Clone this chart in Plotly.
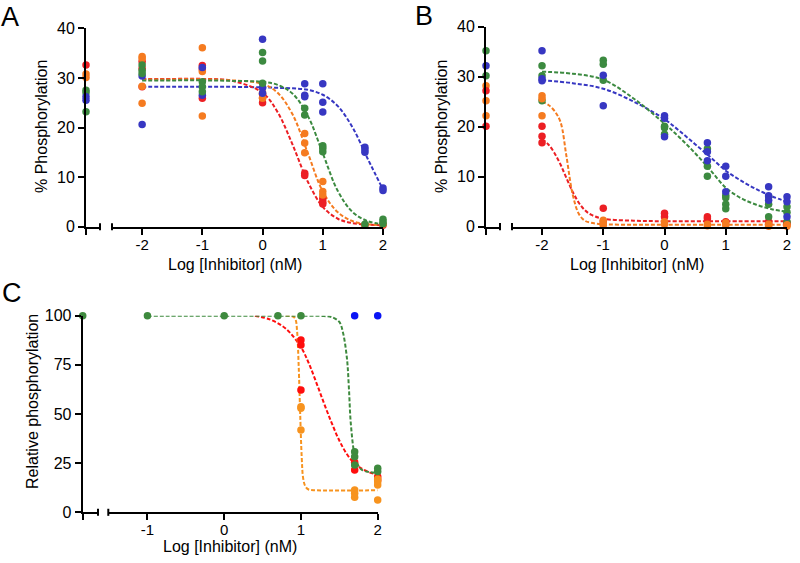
import plotly.graph_objects as go

# log10 dose (nM); control (no inhibitor) sits on the short axis piece left of the break
A_DOSES = [-2, -1, 0, 0.7, 1, 1.7, 2]
A_CTRL_RED = [32.6]
A_CTRL_ORANGE = [30.8, 30.1]
A_CTRL_GREEN = [27.5, 27.0, 23.2]
A_CTRL_BLUE = [26.2, 25.5]
A_RED = [[33.3, 31.9, 28.2], [32.5, 31.8, 25.9], [26.7, 26.0, 25.0], [10.8, 10.3],
         [5.7, 5.0, 4.6], [0.3], [0.3]]
A_ORANGE = [[34.3, 33.9, 28.3, 24.9], [36.1, 31.3, 22.3], [27.0, 25.9], [18.8, 16.9, 14.9],
            [9.1, 7.1, 6.4], [0.4], [0.5]]
A_GREEN = [[32.6, 31.5, 30.9], [29.2, 28.2, 27.2], [35.1, 33.4, 28.9], [23.9, 22.5],
           [16.3, 15.8, 15.1], [0.5], [1.5, 1.0, 0.6]]
A_BLUE = [[30.4, 20.6], [32.1, 26.5], [37.8, 28.0, 26.9], [28.8, 26.5, 26.2],
          [28.8, 25.1, 23.1], [16.0, 15.5, 15.0], [7.8, 7.3]]
A_FIT_X = [-2, -1.5, -1, -0.5, 0, 0.25, 0.5, 0.75, 1, 1.25, 1.5, 1.75, 2]
A_FIT_RED = [29.8, 29.8, 29.8, 29.4, 27.0, 23.1, 16.5, 9.1, 4.0, 1.6, 0.7, 0.4, 0.3]
A_FIT_ORANGE = [29.7, 29.7, 29.7, 29.5, 28.8, 27.0, 22.6, 14.9, 7.1, 2.9, 1.1, 0.5, 0.3]
A_FIT_GREEN = [29.5, 29.5, 29.5, 29.4, 29.2, 28.6, 26.8, 22.4, 14.8, 7.2, 2.9, 1.1, 0.5]
A_FIT_BLUE = [28.2, 28.2, 28.2, 28.2, 28.1, 28.0, 27.9, 27.6, 26.6, 24.3, 19.9, 13.6, 7.5]

B_DOSES = [-2, -1, 0, 0.7, 1, 1.7, 2]
B_CTRL_RED = [27.2, 20.1]
B_CTRL_ORANGE = [28.2, 25.2, 22.2]
B_CTRL_GREEN = [35.2, 30.2]
B_CTRL_BLUE = [32.2]
B_RED = [[20.1, 18.1, 16.8], [3.7, 1.0], [2.7, 2.0], [2.0, 1.6], [1.0], [1.0, 0.6], [0.8, 0.5]]
B_ORANGE = [[26.2, 25.6, 22.2], [1.3, 0.6, 0.3], [1.0, 0.5], [0.5, 0.2], [0.8, 0.3],
            [0.5, 0.1], [0.4, 0.1]]
B_GREEN = [[32.2, 30.2, 25.2], [33.3, 32.5, 29.3], [20.1, 19.8, 18.5], [15.6, 12.1, 10.1],
           [6.3, 5.8, 4.5, 3.6], [6.0, 4.5, 2.0], [4.0, 2.9, 1.0]]
B_BLUE = [[35.2, 29.6, 29.2], [30.3, 24.2], [22.2, 21.7, 18.0], [16.8, 15.0, 13.2],
          [12.1, 10.1, 7.0], [8.0, 6.2, 5.3], [6.0, 5.0, 2.0]]
B_FIT_X = [-2, -1.5, -1, -0.5, 0, 0.25, 0.5, 0.75, 1, 1.25, 1.5, 1.75, 2]
B_FIT_GREEN = [31.0, 30.6, 29.4, 25.6, 20.6, 17.8, 14.7, 11.3, 7.8, 5.7, 4.4, 3.5, 3.0]
B_FIT_BLUE = [29.3, 28.7, 27.6, 25.0, 21.5, 19.1, 16.5, 13.9, 11.2, 9.2, 7.5, 6.1, 5.0]
B_FIT_X2 = [-2, -1.9, -1.8, -1.7, -1.6, -1.5, -1.4, -1.3, -1.2, -1.0, -0.5, 0, 1, 2]
B_FIT_ORANGE = [25.0, 24.4, 23.2, 21.0, 14.0, 6.5, 2.6, 1.2, 0.8, 0.5, 0.4, 0.4, 0.4, 0.4]
B_FIT_RED = [17.5, 16.5, 14.8, 12.5, 9.7, 7.0, 4.8, 3.3, 2.4, 1.6, 1.2, 1.1, 1.1, 1.1]

C_DOSES = [-1, 0, 0.7, 1, 1.7, 2]
C_CTRL_GREEN = [100]
C_RED = [[], [], [], [87.6, 85.1, 62.2], [25.5, 21.5], [18.1, 16.4]]
C_ORANGE = [[], [], [], [53.7, 52.9, 41.9], [11.3, 9.7, 7.6], [17.0, 15.6, 13.9, 6.3]]
C_GREEN = [[100], [100], [100], [100], [30.8, 28.3, 24.1], [22.4, 20.7]]
C_BLUE = [[], [], [], [], [100], [100]]
C_FIT_GREEN_X = [-1, 0, 1, 1.3, 1.4, 1.5, 1.55, 1.6, 1.625, 1.65, 1.7, 1.75, 1.8, 1.9, 2]
C_FIT_GREEN = [100, 100, 100, 99.8, 99.3, 96.8, 91, 78, 63, 45, 29, 23.5, 21.5, 20.4, 20.1]
C_FIT_RED_X = [0.4, 0.6, 0.8, 1.0, 1.1, 1.2, 1.3, 1.4, 1.5, 1.6, 1.7, 1.8, 1.9, 2.0]
C_FIT_RED = [100, 98, 93.5, 84, 76, 66, 55.5, 45.5, 36.5, 29.5, 24.8, 22, 20.2, 19.2]
C_FIT_ORANGE_X = [0.8, 0.9, 0.93, 0.95, 0.97, 0.99, 1.01, 1.03, 1.06, 1.1, 1.2, 2.0]
C_FIT_ORANGE = [100, 99.5, 98, 92, 75, 50, 28, 17, 13, 11.6, 11.2, 11.2]

AB_COLORS = {'red': '#ec1f24', 'orange': '#f57b20', 'green': '#3c8a40', 'blue': '#3737c2'}
C_COLORS = {'red': '#ff0d0d', 'orange': '#f7931e', 'green': '#3e8a3e', 'blue': '#0a14f5'}
FONT = 'Liberation Sans, Arial, sans-serif'
W, H = 800, 563

fig = go.Figure()


def fit(x, y, color, xa, ya):
    fig.add_trace(go.Scatter(
        x=x, y=y, mode='lines', line=dict(color=color, width=2, dash='4px,2px', shape='spline'),
        xaxis=xa, yaxis=ya, hoverinfo='skip', showlegend=False, cliponaxis=False
    ))


def dots(doses, reps, color, xa, ya):
    xs = [d for d, r in zip(doses, reps) for _ in r]
    ys = [v for r in reps for v in r]
    fig.add_trace(go.Scatter(
        x=xs, y=ys, mode='markers', marker=dict(color=color, size=7.5, line=dict(width=0)),
        xaxis=xa, yaxis=ya, hoverinfo='skip', showlegend=False, cliponaxis=False
    ))


# panel A
c = AB_COLORS
for xs, ys, col in [(A_FIT_X, A_FIT_BLUE, 'blue'), (A_FIT_X, A_FIT_RED, 'red'),
                    (A_FIT_X, A_FIT_ORANGE, 'orange'), (A_FIT_X, A_FIT_GREEN, 'green')]:
    fit(xs, ys, c[col], 'x2', 'y')
for vals, col in [(A_CTRL_RED, 'red'), (A_CTRL_ORANGE, 'orange'), (A_CTRL_GREEN, 'green'),
                  (A_CTRL_BLUE, 'blue')]:
    dots([0], [vals], c[col], 'x', 'y')
for reps, col in [(A_RED, 'red'), (A_ORANGE, 'orange'), (A_BLUE, 'blue'), (A_GREEN, 'green')]:
    dots(A_DOSES, reps, c[col], 'x2', 'y')

# panel B
for xs, ys, col in [(B_FIT_X, B_FIT_BLUE, 'blue'), (B_FIT_X, B_FIT_GREEN, 'green'),
                    (B_FIT_X2, B_FIT_RED, 'red'), (B_FIT_X2, B_FIT_ORANGE, 'orange')]:
    fit(xs, ys, c[col], 'x4', 'y2')
for vals, col in [(B_CTRL_GREEN, 'green'), (B_CTRL_BLUE, 'blue'), (B_CTRL_ORANGE, 'orange'),
                  (B_CTRL_RED, 'red')]:
    dots([0], [vals], c[col], 'x3', 'y2')
for reps, col in [(B_RED, 'red'), (B_GREEN, 'green'), (B_BLUE, 'blue'), (B_ORANGE, 'orange')]:
    dots(B_DOSES, reps, c[col], 'x4', 'y2')

# panel C
c = C_COLORS
fit(C_FIT_RED_X, C_FIT_RED, c['red'], 'x6', 'y3')
fit(C_FIT_ORANGE_X, C_FIT_ORANGE, c['orange'], 'x6', 'y3')
fit(C_FIT_GREEN_X, C_FIT_GREEN, c['green'], 'x6', 'y3')
dots([0], [C_CTRL_GREEN], c['green'], 'x5', 'y3')
for reps, col in [(C_RED, 'red'), (C_ORANGE, 'orange'), (C_BLUE, 'blue'), (C_GREEN, 'green')]:
    dots(C_DOSES, reps, c[col], 'x6', 'y3')

axis_style = dict(showline=True, linewidth=2, linecolor='black', ticks='outside', ticklen=6,
                  tickwidth=2, tickcolor='black', showgrid=False, zeroline=False,
                  automargin=False, fixedrange=True,
                  tickfont=dict(family=FONT, size=16, color='black'))


def px(v):
    return v / W


def py(v):
    return 1 - v / H


panels = [
    # ctrl axis, main axis, y axis, ctrl domain, main domain, main range, y domain, y range, ticks
    ('x', 'x2', 'y', (86, 100), (112, 383), [-2.5, 2.0], (226.7, 28.3), [0, 40], [0, 10, 20, 30, 40],
     [-2, -1, 0, 1, 2]),
    ('x3', 'x4', 'y2', (486, 500), (512, 787), [-2.49, 2.0], (226.7, 26.7), [0, 40],
     [0, 10, 20, 30, 40], [-2, -1, 0, 1, 2]),
    ('x5', 'x6', 'y3', (82.7, 98), (108.3, 377.7), [-1.51, 2.0], (512.3, 315.7), [0, 100],
     [0, 25, 50, 75, 100], [-1, 0, 1, 2]),
]

layout = {}
shapes = []
for cx, mx, ya, cdom, mdom, mrange, ydom, yrange, yticks, xticks in panels:
    layout['xaxis' + cx[1:]] = dict(axis_style, domain=[px(cdom[0]), px(cdom[1])], range=[0, 1],
                                    anchor=ya, tickvals=[0], ticktext=[''])
    layout['xaxis' + mx[1:]] = dict(axis_style, domain=[px(mdom[0]), px(mdom[1])], range=mrange,
                                    anchor=ya, tickvals=xticks, ticktext=[str(t) for t in xticks],
                                    ticklabelstandoff=-3,
                                    tickfont=dict(family=FONT, size=15, color='black'))
    layout['yaxis' + ya[1:]] = dict(axis_style, domain=[py(ydom[0]), py(ydom[1])], range=yrange,
                                    anchor=cx, tickvals=yticks, ticktext=[str(t) for t in yticks])
    for ref, xpos in [(cx, 1), (mx, 0)]:
        shapes.append(dict(type='line', xref=ref + ' domain', x0=xpos, x1=xpos,
                           yref=ya + ' domain', y0=-0.018, y1=0.018,
                           line=dict(color='black', width=2)))

annotations = []
for text, x, y, rot in [
    ('Log [Inhibitor] (nM)', 234.5, 265, 0),
    ('Log [Inhibitor] (nM)', 636.5, 265, 0),
    ('Log [Inhibitor] (nM)', 230.2, 546.5, 0),
    ('% Phosphorylation', 42, 127, -90),
    ('% Phosphorylation', 442, 127, -90),
    ('Relative phosphorylation', 32, 402, -90),
]:
    annotations.append(dict(text=text, x=px(x), y=py(y), xref='paper', yref='paper',
                            xanchor='center', yanchor='middle', textangle=rot, showarrow=False,
                            font=dict(family=FONT, size=16, color='black')))
for text, x, y in [('A', 10, 17), ('B', 424, 16), ('C', 12, 293)]:
    annotations.append(dict(text=text, x=px(x), y=py(y), xref='paper', yref='paper',
                            xanchor='center', yanchor='middle', showarrow=False,
                            font=dict(family=FONT, size=27, color='black')))

fig.update_layout(
    width=W, height=H, margin=dict(l=0, r=0, t=0, b=0, pad=0, autoexpand=False),
    paper_bgcolor='white', plot_bgcolor='white',
    shapes=shapes, annotations=annotations, **layout
)
# drop the browser's default body margin so the figure starts at the window corner
fig.write_html('out.html', config={'displayModeBar': False},
               post_script="document.body.style.margin='0px';")
